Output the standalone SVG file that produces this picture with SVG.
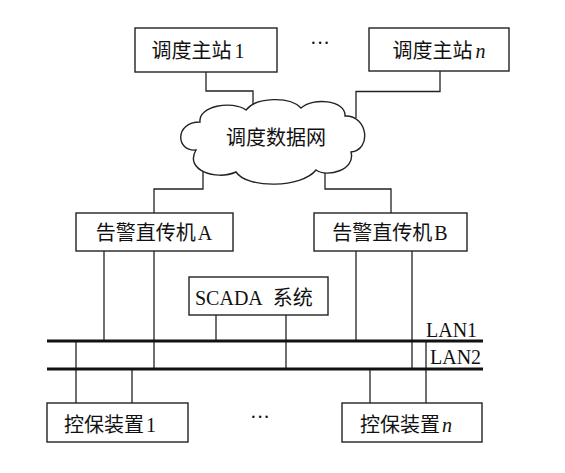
<svg xmlns="http://www.w3.org/2000/svg" width="565" height="473" viewBox="0 0 565 473">
<style>
.box{fill:#fff;stroke:#222;stroke-width:1.4}
.ln{fill:none;stroke:#222;stroke-width:1.3}
.bus{fill:none;stroke:#111;stroke-width:3}
.t{font-family:"Liberation Serif","Noto Sans CJK SC",serif;font-size:20px;fill:#111}
.c{font-family:"Noto Sans CJK SC",sans-serif;font-size:20px;fill:#111}
</style>
<rect width="565" height="473" fill="#fff"/>
<g id="connectors">
<polyline class="ln" points="206,72 206,91 253,91 253,112"/>
<polyline class="ln" points="440,71 440,91.5 356,91.5 356,118"/>
<polyline class="ln" points="203,165 203,189 154,189 154,213"/>
<polyline class="ln" points="325,165 325,189 391,189 391,213"/>
<line class="ln" x1="104" y1="251" x2="104" y2="341"/>
<line class="ln" x1="154" y1="251" x2="154" y2="369"/>
<line class="ln" x1="216" y1="315" x2="216" y2="341"/>
<line class="ln" x1="286" y1="315" x2="286" y2="369"/>
<line class="ln" x1="356" y1="251" x2="356" y2="341"/>
<line class="ln" x1="412" y1="251" x2="412" y2="369"/>
<line class="ln" x1="76" y1="341" x2="76" y2="403"/>
<line class="ln" x1="132" y1="369" x2="132" y2="403"/>
<line class="ln" x1="370" y1="369" x2="370" y2="403"/>
<line class="ln" x1="426" y1="341" x2="426" y2="403"/>
<line class="bus" x1="47" y1="341" x2="483" y2="341"/>
<line class="bus" x1="47" y1="369" x2="483" y2="369"/>
<text class="t" x="426" y="337">LAN1</text>
<text class="t" x="430" y="364">LAN2</text>
</g>
<g id="station1">
<rect class="box" x="135" y="28" width="142" height="44"/>
<text x="198" y="58" text-anchor="middle"><tspan class="c">调度主站</tspan><tspan class="t" dx="3">1</tspan></text>
</g>
<g id="dots-top"><text class="t" x="320" y="50" text-anchor="middle" font-size="16">···</text></g>
<g id="stationn">
<rect class="box" x="369" y="28" width="140" height="43"/>
<text x="439" y="58" text-anchor="middle"><tspan class="c">调度主站</tspan><tspan class="t" dx="3" font-style="italic">n</tspan></text>
</g>
<g id="cloud">
<path class="box" d="M196,150 C176,152 174,122 200,122 C198,106 232,100 246,110 C256,97 290,96 301,108 C313,97 346,100 345,116 C368,115 372,150 351,152 C356,170 327,178 316,170 C302,188 247,189 236,172 C216,181 184,170 196,150 Z"/>
<text class="c" x="276" y="145" text-anchor="middle">调度数据网</text>
</g>
<g id="alarmA">
<rect class="box" x="76" y="213" width="157" height="38"/>
<text x="154" y="240" text-anchor="middle"><tspan class="c">告警直传机</tspan><tspan class="t" dx="2">A</tspan></text>
</g>
<g id="alarmB">
<rect class="box" x="314" y="213" width="153" height="38"/>
<text x="390" y="240" text-anchor="middle"><tspan class="c">告警直传机</tspan><tspan class="t" dx="2">B</tspan></text>
</g>
<g id="scada">
<rect class="box" x="189" y="277" width="139" height="38"/>
<text x="195" y="305"><tspan class="t">SCADA</tspan><tspan class="c" dx="10">系统</tspan></text>
</g>
<g id="prot1">
<rect class="box" x="47" y="403" width="141" height="39"/>
<text x="110" y="432" text-anchor="middle"><tspan class="c">控保装置</tspan><tspan class="t" dx="2">1</tspan></text>
</g>
<g id="dots-bottom"><text class="t" x="260" y="424" text-anchor="middle" font-size="16">···</text></g>
<g id="protn">
<rect class="box" x="342" y="403" width="140" height="39"/>
<text x="406" y="432" text-anchor="middle"><tspan class="c">控保装置</tspan><tspan class="t" dx="2" font-style="italic">n</tspan></text>
</g>
</svg>
